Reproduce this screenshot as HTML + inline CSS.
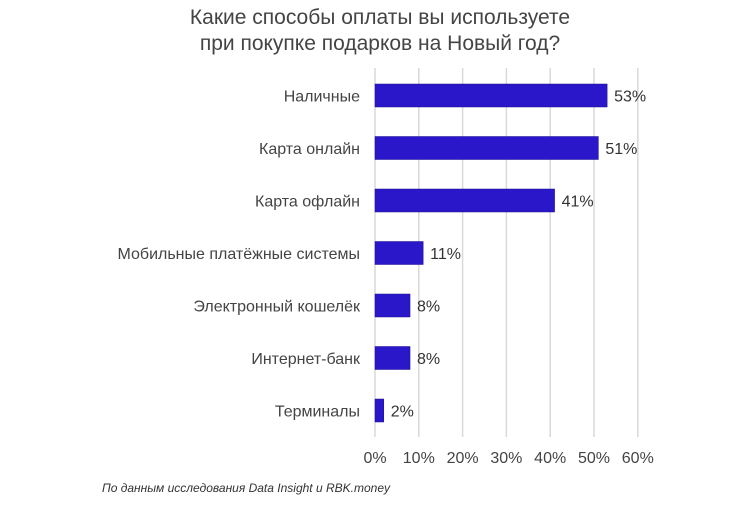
<!DOCTYPE html>
<html><head><meta charset="utf-8"><style>
body{margin:0;background:#fff;width:750px;height:500px;overflow:hidden}
svg{font-family:"Liberation Sans",sans-serif}
</style></head><body>
<svg width="750" height="500">
<text x="380" y="24" text-anchor="middle" font-size="21" fill="#444">Какие способы оплаты вы используете</text>
<text x="380" y="50" text-anchor="middle" font-size="21" fill="#444">при покупке подарков на Новый год?</text>
<g id="grid"></g><g id="bars"></g><g id="xticks"></g>
<text x="102" y="492" font-size="12" font-style="italic" fill="#333">По данным исследования Data Insight и RBK.money</text>
</svg>
<script>
const categories=["Наличные","Карта онлайн","Карта офлайн","Мобильные платёжные системы","Электронный кошелёк","Интернет-банк","Терминалы"];
const values=[53,51,41,11,8,8,2];
const ticks=[0,10,20,30,40,50,60];
const NS="http://www.w3.org/2000/svg";
const x=v=>375+v*4.38;
const y=i=>95.5+i*52.5;
function el(t,a,p){const e=document.createElementNS(NS,t);for(const k in a)e.setAttribute(k,a[k]);p.appendChild(e);return e;}
const g=document.getElementById("grid"),b=document.getElementById("bars"),xt=document.getElementById("xticks");
ticks.forEach(t=>{
 const l=el("line",{x1:x(t),x2:x(t),y1:68,y2:437,stroke:"#d9d9d9","stroke-width":1.5},g);
 
 
 const tx=el("text",{x:x(t),y:463,"text-anchor":"middle","font-size":16,fill:"#444"},xt);
 tx.textContent=t+"%";
 
 
});
categories.forEach((c,i)=>{
 const r=el("rect",{x:x(0),y:y(i)-11.5,width:x(values[i])-x(0),height:23,fill:"#2a17c9",stroke:"#1d1090","stroke-width":0.5},b);
 
 
 const v=el("text",{x:x(values[i])+7,y:y(i)+6,"font-size":16,fill:"#333"},b);
 v.textContent=values[i]+"%";
 
 
 const lb=el("text",{x:360,y:y(i)+6,"text-anchor":"end","font-size":16,fill:"#444"},b);
 lb.textContent=c;
 
 
});
</script>
</body></html>
